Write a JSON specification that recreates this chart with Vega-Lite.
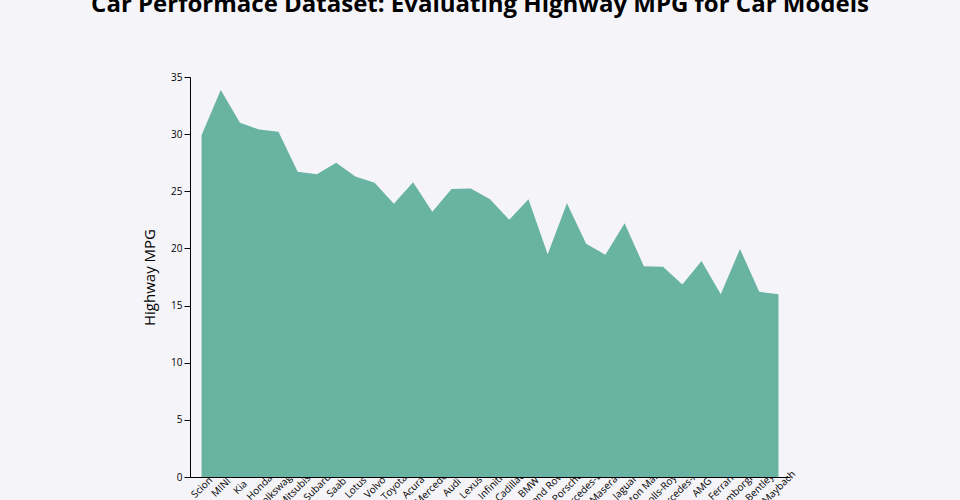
{
  "$schema": "https://vega.github.io/schema/vega-lite/v6.json",
  "autosize": {"type": "none"},
  "padding": {"left": 190, "top": 77, "right": 170, "bottom": 23},
  "width": 600,
  "height": 400,
  "background": "#f5f4f9",
  "title": {
    "text": "Car Performace Dataset: Evaluating Highway MPG for Car Models",
    "font": "Open Sans",
    "fontSize": 24,
    "fontWeight": "bold",
    "color": "#000000",
    "anchor": "middle",
    "offset": 55,
    "dx": -10
  },
  "config": {
    "view": {"stroke": null},
    "font": "Open Sans"
  },
  "data": {
    "values": [
      {"make": "Scion", "mpg": 29.9},
      {"make": "MINI", "mpg": 33.86},
      {"make": "Kia", "mpg": 31.0},
      {"make": "Honda", "mpg": 30.4},
      {"make": "Volkswagen", "mpg": 30.2},
      {"make": "Mitsubishi", "mpg": 26.7},
      {"make": "Subaru", "mpg": 26.5},
      {"make": "Saab", "mpg": 27.5},
      {"make": "Lotus", "mpg": 26.3},
      {"make": "Volvo", "mpg": 25.75},
      {"make": "Toyota", "mpg": 23.9},
      {"make": "Acura", "mpg": 25.8},
      {"make": "Mercedes", "mpg": 23.2},
      {"make": "Audi", "mpg": 25.2},
      {"make": "Lexus", "mpg": 25.25},
      {"make": "Infiniti", "mpg": 24.3},
      {"make": "Cadillac", "mpg": 22.5},
      {"make": "BMW", "mpg": 24.3},
      {"make": "Land Rover", "mpg": 19.5},
      {"make": "Porsche", "mpg": 23.95},
      {"make": "Mercedes-Benz", "mpg": 20.4},
      {"make": "Maserati", "mpg": 19.45},
      {"make": "Jaguar", "mpg": 22.2},
      {"make": "Aston Martin", "mpg": 18.45},
      {"make": "Rolls-Royce", "mpg": 18.4},
      {"make": "Mercedes-AMG", "mpg": 16.85},
      {"make": "AMG", "mpg": 18.9},
      {"make": "Ferrari", "mpg": 16.0},
      {"make": "Lamborghini", "mpg": 19.95},
      {"make": "Bentley", "mpg": 16.2},
      {"make": "Maybach", "mpg": 16.0}
    ]
  },
  "mark": {"type": "area", "color": "#69b3a2", "opacity": 1},
  "encoding": {
    "x": {
      "field": "make",
      "type": "ordinal",
      "sort": null,
      "scale": {"type": "point", "padding": 0.6},
      "axis": {
        "title": null,
        "labelAngle": -45,
        "labelAlign": "center",
        "labelBaseline": "middle",
        "labelFontSize": 10,
        "labelColor": "#000000",
        "labelLimit": 0,
        "labelOverlap": false,
        "labelBound": false,
        "ticks": false,
        "labelPadding": 10,
        "domainColor": "#000000",
        "grid": false,
        "zindex": 0
      }
    },
    "y": {
      "field": "mpg",
      "type": "quantitative",
      "scale": {"domain": [0, 35]},
      "axis": {
        "title": "Highway MPG",
        "titleFontSize": 15,
        "titleFontWeight": "normal",
        "titleColor": "#000000",
        "titlePadding": 13,
        "values": [0, 5, 10, 15, 20, 25, 30, 35],
        "labelFontSize": 10,
        "labelColor": "#000000",
        "tickColor": "#000000",
        "tickSize": 6,
        "domainColor": "#000000",
        "grid": false
      }
    }
  }
}
